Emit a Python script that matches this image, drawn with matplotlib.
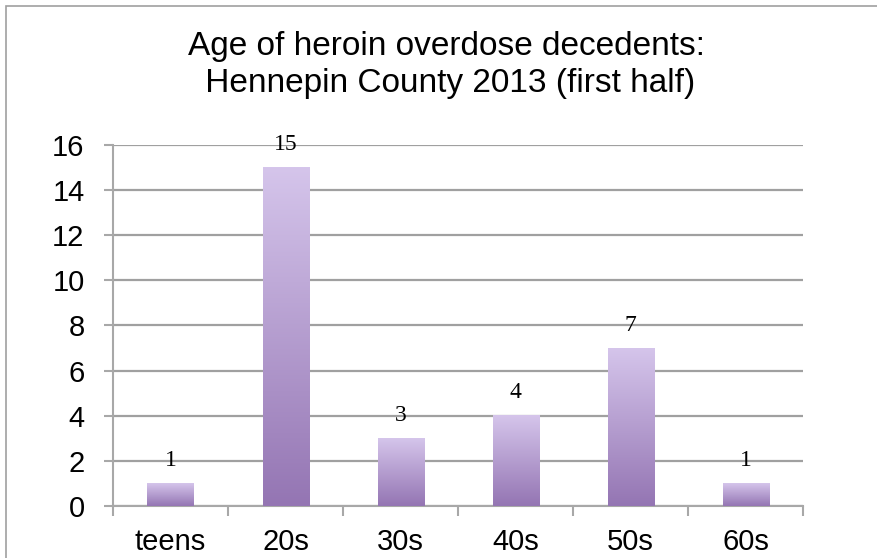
import numpy as np
import matplotlib
matplotlib.use("Agg")
import matplotlib.pyplot as plt
from matplotlib.patches import Rectangle
from matplotlib.colors import LinearSegmentedColormap

# age groups and number of decedents
age_groups = ["teens", "20s", "30s", "40s", "50s", "60s"]
decedents = [1, 15, 3, 4, 7, 1]

plt.rcParams["font.family"] = ["Liberation Sans", "DejaVu Sans"]

fig = plt.figure(figsize=(8.78, 5.58), dpi=100)
ax = fig.add_axes([0.1287, 0.0932, 0.7859, 0.6470])

# thin gray frame around the chart
fig.patches.append(Rectangle((6 / 878, -0.01), 1.0, 1 - 6 / 558 + 0.01,
                             transform=fig.transFigure, fill=False,
                             edgecolor="#a0a0a0", linewidth=1.2))

x = np.arange(len(age_groups))
width = 0.4
purple = LinearSegmentedColormap.from_list("purp", ["#9475b3", "#d5c5eb"])
grad = np.linspace(0, 1, 256).reshape(-1, 1)

bars = ax.bar(x, decedents, width=width, color="none", zorder=3)
for b, v in zip(bars, decedents):
    x0 = b.get_x()
    ax.imshow(grad, extent=[x0, x0 + width, 0, v], origin="lower",
              cmap=purple, aspect="auto", zorder=3)
    ax.text(b.get_x() + width / 2, v + 0.55, str(v), ha="center", va="bottom",
            fontsize=17, family="Liberation Serif", zorder=4)

ax.set_xlim(-0.5, len(age_groups) - 0.5)
ax.set_ylim(0, 16)
ax.set_yticks(range(0, 17, 2))
ax.set_xticks(x)
ax.set_xticklabels(age_groups)
ax.set_xticks(np.arange(-0.5, len(age_groups), 1), minor=True)
ax.tick_params(axis="x", which="major", length=0, labelsize=21, pad=16)
ax.tick_params(axis="x", which="minor", length=7, width=1.5, color="#a8a8a8")
ax.tick_params(axis="y", length=6.5, width=1.5, color="#a8a8a8", labelsize=21, pad=14)

ax.grid(axis="y", color="#a0a0a0", linewidth=1.6, zorder=1)
ax.set_axisbelow(True)
for side in ["top", "right"]:
    ax.spines[side].set_visible(False)
for side in ["left", "bottom"]:
    ax.spines[side].set_color("#a8a8a8")
    ax.spines[side].set_linewidth(1.5)

fig.text(0.508, 0.8835, "Age of heroin overdose decedents:\n Hennepin County 2013 (first half)",
         ha="center", va="center", fontsize=24, linespacing=1.25)

fig.savefig("out.png", dpi=100)
